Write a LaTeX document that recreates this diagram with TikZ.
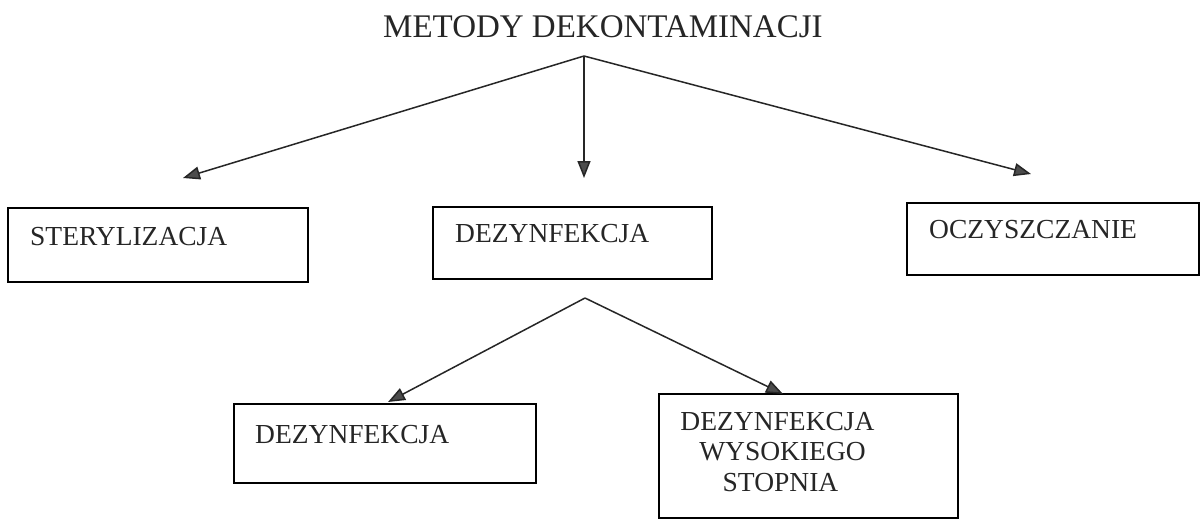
\documentclass[tikz,border=0pt]{standalone}
\usepackage{fontspec}
\setmainfont{Liberation Serif}
\usetikzlibrary{arrows.meta}
\begin{document}
\begin{tikzpicture}[x=1pt,y=-1pt,
  box/.style={draw=black,line width=1.6pt,rectangle,inner sep=0pt},
  lbl/.style={inner sep=0pt,font=\fontsize{27.5}{30}\selectfont,text=black!85},
  arr/.style={line width=1.5pt,draw=black!85,-{Triangle[length=17pt,width=13pt,fill=black!70]}}]
\fill[white] (0,0) rectangle (1201,525);
\useasboundingbox (0,0) rectangle (1201,525);
% title
\node[inner sep=0pt,anchor=base west,font=\fontsize{33}{36}\selectfont,text=black!85] (title) at (383,37) {METODY DEKONTAMINACJI};
% boxes
\node[box,minimum width=300pt,minimum height=74pt] (b1) at (158,245) {};
\node[box,minimum width=279pt,minimum height=72pt] (b2) at (572.5,243) {};
\node[box,minimum width=292pt,minimum height=72pt] (b3) at (1053,239) {};
\node[box,minimum width=302pt,minimum height=79pt] (b4) at (385,443.5) {};
\node[box,minimum width=299pt,minimum height=124pt] (b5) at (808.5,456) {};
% texts
\node[lbl,anchor=base west] (t1) at (30,245) {STERYLIZACJA};
\node[lbl,anchor=base west] (t2) at (455,242) {DEZYNFEKCJA};
\node[lbl,anchor=base west] (t3) at (929,238) {OCZYSZCZANIE};
\node[lbl,anchor=base west] (t4) at (255,443) {DEZYNFEKCJA};
\node[lbl,anchor=base] (t5a) at (777.5,430) {DEZYNFEKCJA};
\node[lbl,anchor=base] (t5b) at (782.5,460.5) {WYSOKIEGO};
\node[lbl,anchor=base] (t5c) at (780.5,491) {STOPNIA};
% connectors
\coordinate (a1) at (584,56);
\coordinate (e1) at (183,178);
\coordinate (e2) at (584,178);
\coordinate (e3) at (1031,174);
\draw[arr] (a1) -- (e1);
\draw[arr] (a1) -- (e2);
\draw[arr] (a1) -- (e3);
\coordinate (a2) at (585,298);
\coordinate (e4) at (388,402);
\coordinate (e5) at (783,394);
\draw[arr] (a2) -- (e4);
\draw[arr] (a2) -- (e5);
\end{tikzpicture}
\end{document}
